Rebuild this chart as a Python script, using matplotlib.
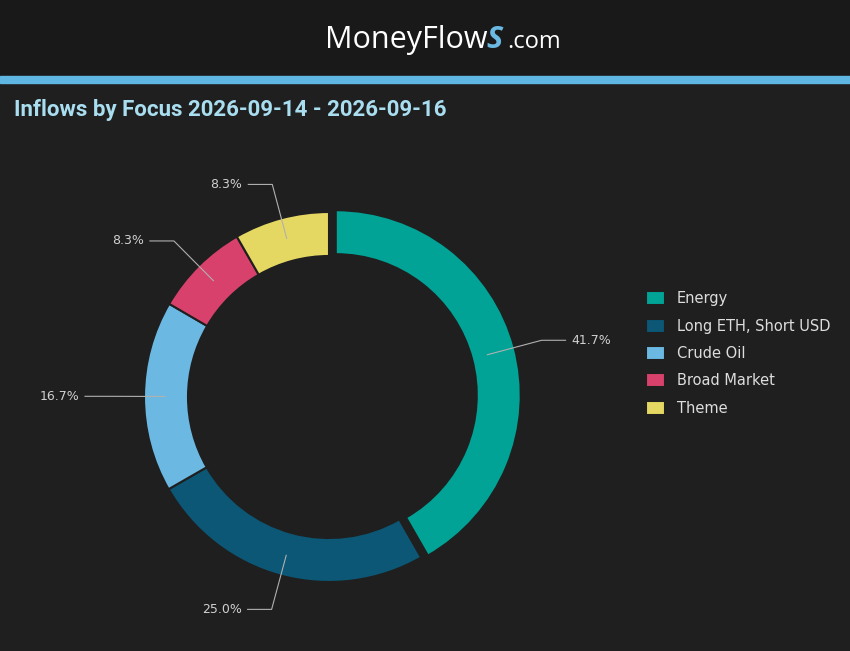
import numpy as np
import matplotlib
matplotlib.use("Agg")
import matplotlib.pyplot as plt

# ---------------------------------------------------------------------------
# Data
# ---------------------------------------------------------------------------
categories = ["Energy", "Long ETH, Short USD", "Crude Oil", "Broad Market", "Theme"]
values     = [41.7, 25.0, 16.7, 8.3, 8.3]
colors     = ["#00a396", "#0b5775", "#6bb9e2", "#d8416b", "#e5d862"]
explode    = [0.035, 0, 0, 0, 0]

BG = "#1f1f1f"

fig = plt.figure(figsize=(8.5, 6.51), dpi=100, facecolor=BG)

# header band
fig.patches.append(plt.Rectangle((0, 1 - 75 / 651), 1, 75 / 651, transform=fig.transFigure,
                                 color="#191919", zorder=0))
fig.patches.append(plt.Rectangle((0, 1 - 83 / 651), 1, 7 / 651, transform=fig.transFigure,
                                 color="#5fb6e3", zorder=1))
fig.text(487 / 850, 1 - 40 / 651, "MoneyFlow", ha="right", va="center", color="white",
         fontsize=22, family="Open Sans")
fig.text(486 / 850, 1 - 40 / 651, "S", ha="left", va="center", color="#6bb9e2",
         fontsize=22, family="Open Sans", style="italic", fontweight="bold")
fig.text(507 / 850, 1 - 42 / 651, ".com", ha="left", va="center", color="white",
         fontsize=17, family="Open Sans")
fig.text(14 / 850, 1 - 110 / 651, "Inflows by Focus 2026-09-14 - 2026-09-16", ha="left",
         va="center", color="#a9def0", fontsize=16, fontweight="bold", family="Roboto")

# donut
ax = fig.add_axes([(329 - 200) / 850, (254 - 200) / 651, 400 / 850, 400 / 651])
ax.set_facecolor(BG)
wedges, _ = ax.pie(values, colors=colors, explode=explode, startangle=90, counterclock=False,
                   radius=0.925, wedgeprops=dict(width=0.22, edgecolor=BG, linewidth=1.5))
ax.set_xlim(-1, 1)
ax.set_ylim(-1, 1)
ax.set_aspect("equal")
ax.axis("off")

for w, v in zip(wedges, values):
    ang = np.deg2rad((w.theta1 + w.theta2) / 2)
    c, s = np.cos(ang), np.sin(ang)
    x0, y0 = 0.82 * c, 0.82 * s
    x1, y1 = 1.1 * c, 1.1 * s
    x2 = x1 + (0.12 if c >= 0 else -0.12)
    ax.plot([x0, x1, x2], [y0, y1, y1], color="#b0b0b0", lw=0.8, clip_on=False)
    ax.text(x2 + (0.03 if c >= 0 else -0.03), y1, f"{v:.1f}%", color="#d0d0d0", fontsize=9,
            ha="left" if c >= 0 else "right", va="center", clip_on=False)

leg = fig.legend(wedges, categories, loc="upper left", bbox_to_anchor=(633 / 850, 1 - 278 / 651),
                 frameon=False, fontsize=10.5, labelcolor="#dddddd", handlelength=1.3,
                 handleheight=1.1, labelspacing=0.85)

fig.savefig("out.png", dpi=100, facecolor=BG)
